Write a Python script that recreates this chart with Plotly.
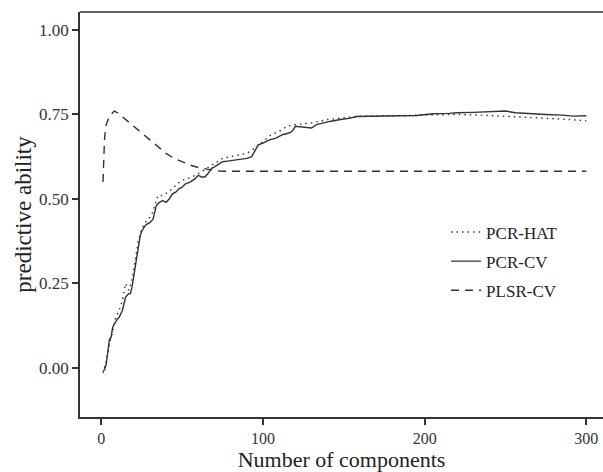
import plotly.graph_objects as go

# PCR-CV (solid)
cv_x = [1, 2, 3, 4, 5, 6, 7, 8, 9, 10, 11, 12, 13, 14, 15, 16, 17, 18, 19, 20,
        21, 22, 23, 24, 25, 26, 27, 28, 30, 32, 33, 34, 36, 38, 40, 42, 44, 46, 48, 50,
        52, 55, 58, 60, 62, 64, 66, 68, 70, 72, 75, 78, 82, 86, 90, 93, 95, 97, 100, 104,
        108, 112, 116, 118, 120, 125, 130, 133, 137, 142, 148, 154, 158, 165, 175, 185, 195, 200, 205, 215,
        220, 230, 240, 250, 256, 265, 275, 285, 292, 300]
cv_y = [-0.01, -0.005, 0.01, 0.05, 0.085, 0.09, 0.12, 0.13, 0.14, 0.145, 0.15, 0.16, 0.17, 0.19, 0.21, 0.215, 0.22, 0.22, 0.24, 0.27,
        0.30, 0.33, 0.36, 0.39, 0.405, 0.415, 0.42, 0.425, 0.43, 0.44, 0.46, 0.48, 0.49, 0.495, 0.49, 0.50, 0.515, 0.52, 0.53, 0.535,
        0.545, 0.55, 0.56, 0.57, 0.565, 0.565, 0.575, 0.59, 0.595, 0.60, 0.61, 0.612, 0.615, 0.618, 0.62, 0.625, 0.645, 0.66, 0.665, 0.675,
        0.68, 0.69, 0.695, 0.70, 0.715, 0.712, 0.71, 0.72, 0.725, 0.73, 0.735, 0.739, 0.744, 0.745, 0.745, 0.746, 0.747, 0.75, 0.752, 0.753,
        0.755, 0.756, 0.757, 0.76, 0.755, 0.752, 0.75, 0.748, 0.745, 0.746]

# PCR-HAT (dotted)
hat_x = [1, 3, 5, 7, 9, 11, 13, 15, 17, 19, 21, 23, 25, 27, 29, 31, 33, 35, 38, 41,
         44, 47, 50, 53, 56, 60, 65, 70, 75, 80, 85, 90, 95, 100, 105, 110, 115, 120, 130, 140,
         150, 160, 180, 200, 220, 235, 250, 260, 270, 280, 290, 300]
hat_y = [-0.015, 0.02, 0.07, 0.11, 0.15, 0.17, 0.20, 0.25, 0.23, 0.26, 0.32, 0.38, 0.41, 0.43, 0.44, 0.45, 0.48, 0.51, 0.51, 0.52,
         0.53, 0.545, 0.555, 0.56, 0.565, 0.575, 0.59, 0.605, 0.62, 0.625, 0.63, 0.635, 0.65, 0.67, 0.69, 0.70, 0.715, 0.72, 0.725, 0.735,
         0.74, 0.745, 0.746, 0.748, 0.75, 0.748, 0.745, 0.742, 0.74, 0.737, 0.735, 0.731]

# PLSR-CV (dashed)
pls_x = [1, 2, 3, 4, 5, 6, 8, 10, 15, 20, 25, 30, 35, 40, 45, 50, 55, 60, 65, 70, 75, 80, 300]
pls_y = [0.55, 0.68, 0.72, 0.735, 0.745, 0.75, 0.76, 0.755, 0.735, 0.715, 0.695, 0.675, 0.655, 0.635, 0.62, 0.61, 0.60, 0.593, 0.588, 0.584, 0.582, 0.582, 0.582]

x_ticks = [0, 100, 200, 300]
y_ticks = [0.00, 0.25, 0.50, 0.75, 1.00]
y_tick_labels = ["0.00", "0.25", "0.50", "0.75", "1.00"]

ink = "#333333"
font = "Liberation Serif"

fig = go.Figure()
fig.add_trace(go.Scatter(x=hat_x, y=hat_y, mode="lines", name="PCR-HAT", legendgroup="a",
                         line=dict(color=ink, width=1.4, dash="1.5px,4px")))
fig.add_trace(go.Scatter(x=cv_x, y=cv_y, mode="lines", name="PCR-CV", legendgroup="b",
                         line=dict(color=ink, width=1.4)))
fig.add_trace(go.Scatter(x=pls_x, y=pls_y, mode="lines", name="PLSR-CV", legendgroup="c",
                         line=dict(color=ink, width=1.4, dash="8px,6px")))

fig.update_layout(
    template="none",
    width=603, height=472,
    margin=dict(l=80, r=0, t=12, b=55),
    paper_bgcolor="white", plot_bgcolor="white",
    font=dict(family=font, color=ink, size=16),
    showlegend=True,
    legend=dict(x=0.70, y=0.50, xanchor="left", yanchor="top", bgcolor="rgba(0,0,0,0)",
                font=dict(family=font, size=17, color="#222222"), tracegroupgap=4),
    xaxis=dict(range=[-13.2, 310.3], tickvals=x_ticks, showgrid=False, zeroline=False,
               showline=True, linecolor=ink, linewidth=1.5, mirror=False, automargin=False,
               ticks="outside", ticklen=6, tickwidth=1.5, tickcolor=ink,
               tickfont=dict(family=font, size=16, color="#333333"),
               title=dict(text="Number of components", font=dict(family=font, size=22, color="#222222"), standoff=5)),
    yaxis=dict(range=[-0.145, 1.053], tickvals=y_ticks, ticktext=y_tick_labels, showgrid=False, zeroline=False,
               showline=True, linecolor=ink, linewidth=1.5, mirror=False, automargin=False,
               ticks="outside", ticklen=6, tickwidth=1.5, tickcolor=ink,
               tickfont=dict(family=font, size=17, color="#333333"),
               title=dict(text="predictive ability", font=dict(family=font, size=23, color="#222222"), standoff=1)),
    shapes=[dict(type="line", xref="paper", yref="paper", x0=0, x1=1, y0=1, y1=1,
                 line=dict(color=ink, width=1.5))],
)

fig.write_html("out.html")
